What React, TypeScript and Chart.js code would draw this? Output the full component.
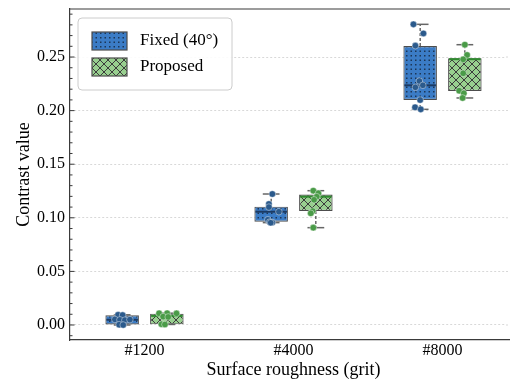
import React, { useEffect, useRef } from 'react';
import { Chart, registerables } from 'chart.js';

Chart.register(...registerables);

// ---------------- data ----------------
const categories = ['#1200', '#4000', '#8000'];
const seriesNames = ['Fixed (40°)', 'Proposed'];
const yTickValues = [0, 0.05, 0.1, 0.15, 0.2, 0.25];

// box statistics (per category) — Fixed (40°)
const fixedQ1 = [0.0004, 0.0964, 0.2099];
const fixedMedian = [0.0049, 0.1057, 0.2236];
const fixedQ3 = [0.009, 0.1104, 0.2603];
const fixedLow = [0.0, 0.0955, 0.2012];
const fixedHigh = [0.0095, 0.1222, 0.2805];

// box statistics (per category) — Proposed
const propQ1 = [0.0006, 0.1063, 0.2183];
const propMedian = [0.0085, 0.1197, 0.248];
const propQ3 = [0.0106, 0.1217, 0.2488];
const propLow = [0.0005, 0.0908, 0.2118];
const propHigh = [0.011, 0.1253, 0.2615];

// individual observations (strip points) and their horizontal jitter
const fixedPoints = [
  [0.0095, 0.0092, 0.0052, 0.0048, 0.0045, 0.005, 0.0003, 0.0],
  [0.1222, 0.1129, 0.11, 0.1057, 0.0982, 0.096, 0.0956, 0.0954],
  [0.2805, 0.272, 0.2606, 0.2276, 0.2236, 0.2217, 0.2099, 0.2031, 0.2012],
];
const fixedJitter = [
  [-0.027, 0.003, -0.049, -0.015, 0.018, 0.052, -0.02, 0.007],
  [0.008, -0.015, -0.015, 0.052, -0.022, -0.01, 0.008, -0.003],
  [-0.045, 0.022, -0.032, -0.005, 0.018, -0.032, 0.0, -0.034, 0.004],
];
const propPoints = [
  [0.0109, 0.011, 0.0108, 0.0078, 0.0075, 0.0007, 0.0005],
  [0.1253, 0.1228, 0.1197, 0.1168, 0.1063, 0.1042, 0.0908],
  [0.2615, 0.2519, 0.2478, 0.2348, 0.2186, 0.2161, 0.2118],
];
const propJitter = [
  [-0.052, 0.002, 0.065, -0.025, 0.009, -0.036, -0.013],
  [-0.017, 0.017, 0.006, -0.012, -0.021, -0.034, -0.017],
  [0.0, 0.015, -0.011, -0.011, -0.038, -0.007, -0.015],
];

// ---------------- styles ----------------
const FONT = "'Liberation Serif', 'Times New Roman', serif";
const FIXED_FILL = '#3b7cc6';
const FIXED_DOT = '#1c3657';
const FIXED_MEDIAN = '#1b3a63';
const FIXED_POINT = '#2b5a8c';
const PROP_FILL = '#98cf8f';
const PROP_HATCH = '#3c3c3c';
const PROP_MEDIAN = '#2f8a2f';
const PROP_POINT = '#4a9b48';
const EDGE = '#4d4d4d';
const FRAME = '#3a3a3a';
const HUE_OFFSET = [-0.15, 0.15];
const VIEW_WIDTH = 510;

function dotPattern(): CanvasPattern | string {
  const c = document.createElement('canvas');
  c.width = 9;
  c.height = 9;
  const g = c.getContext('2d');
  if (!g) return FIXED_FILL;
  g.fillStyle = FIXED_FILL;
  g.fillRect(0, 0, 9, 9);
  g.fillStyle = FIXED_DOT;
  [[1, 1], [5.5, 1], [1, 5.5], [5.5, 5.5]].forEach(([x, y]) => g.fillRect(x, y, 1.5, 1.5));
  return g.createPattern(c, 'repeat') || FIXED_FILL;
}

function crossPattern(): CanvasPattern | string {
  const c = document.createElement('canvas');
  c.width = 8;
  c.height = 8;
  const g = c.getContext('2d');
  if (!g) return PROP_FILL;
  g.fillStyle = PROP_FILL;
  g.fillRect(0, 0, 8, 8);
  g.strokeStyle = PROP_HATCH;
  g.lineWidth = 1;
  g.beginPath();
  g.moveTo(-1, -1);
  g.lineTo(9, 9);
  g.moveTo(-1, 9);
  g.lineTo(9, -1);
  g.stroke();
  return g.createPattern(c, 'repeat') || PROP_FILL;
}

const boxStats = [
  { q1: fixedQ1, med: fixedMedian, q3: fixedQ3, lo: fixedLow, hi: fixedHigh, medColor: FIXED_MEDIAN },
  { q1: propQ1, med: propMedian, q3: propQ3, lo: propLow, hi: propHigh, medColor: PROP_MEDIAN },
];

function line(ctx: CanvasRenderingContext2D, x1: number, y1: number, x2: number, y2: number) {
  ctx.beginPath();
  ctx.moveTo(x1, y1);
  ctx.lineTo(x2, y2);
  ctx.stroke();
}

const boxPlugin = {
  id: 'boxExtras',
  afterDatasetDraw(chart: any, args: any) {
    const ds = chart.data.datasets[args.index];
    if (ds.statsIndex === undefined) return;
    const st = boxStats[ds.statsIndex];
    const y = chart.scales.y;
    const ctx: CanvasRenderingContext2D = chart.ctx;
    args.meta.data.forEach((bar: any, i: number) => {
      const x = bar.x;
      const w = bar.width;
      ctx.save();
      ctx.strokeStyle = '#333333';
      ctx.lineWidth = 1.1;
      ctx.setLineDash([3, 2]);
      line(ctx, x, y.getPixelForValue(st.q3[i]), x, y.getPixelForValue(st.hi[i]));
      line(ctx, x, y.getPixelForValue(st.q1[i]), x, y.getPixelForValue(st.lo[i]));
      ctx.setLineDash([]);
      ctx.strokeStyle = '#666666';
      ctx.lineWidth = 1.5;
      line(ctx, x - w / 4, y.getPixelForValue(st.hi[i]), x + w / 4, y.getPixelForValue(st.hi[i]));
      line(ctx, x - w / 4, y.getPixelForValue(st.lo[i]), x + w / 4, y.getPixelForValue(st.lo[i]));
      ctx.strokeStyle = st.medColor;
      ctx.lineWidth = 2;
      const ym = y.getPixelForValue(st.med[i]);
      line(ctx, x - w / 2 + 1, ym, x + w / 2 - 1, ym);
      ctx.restore();
    });
  },
};

const framePlugin = {
  id: 'frameLegend',
  afterDraw(chart: any) {
    const ctx: CanvasRenderingContext2D = chart.ctx;
    const { left, right, top, bottom } = chart.chartArea;
    const y = chart.scales.y;
    ctx.save();
    // keep the visible right margin clean (the right spine lies outside the view)
    ctx.fillStyle = '#ffffff';
    ctx.fillRect(VIEW_WIDTH - 4, top + 1.5, 4, bottom - top - 3);
    ctx.strokeStyle = '#cfcfcf';
    ctx.lineWidth = 0.8;
    ctx.setLineDash([2, 2]);
    yTickValues.forEach((v) => {
      const py = y.getPixelForValue(v);
      line(ctx, VIEW_WIDTH - 4, py, VIEW_WIDTH, py);
    });
    ctx.setLineDash([]);
    ctx.strokeStyle = FRAME;
    ctx.lineWidth = 1.2;
    line(ctx, left, top, right, top);
    // inward y ticks
    ctx.lineWidth = 1;
    yTickValues.forEach((v) => {
      const py = y.getPixelForValue(v);
      line(ctx, left, py, left + 4.5, py);
    });
    const minorStep = 0.01;
    for (let k = Math.ceil(y.min / minorStep); k <= Math.floor(y.max / minorStep); k++) {
      if (k % 5 === 0) continue;
      const py = y.getPixelForValue(k * minorStep);
      line(ctx, left, py, left + 2.5, py);
    }
    // legend
    const lx = left + 8;
    const ly = top + 9;
    const lw = 154;
    const lh = 72;
    const r = 4;
    ctx.beginPath();
    ctx.moveTo(lx + r, ly);
    ctx.lineTo(lx + lw - r, ly);
    ctx.arcTo(lx + lw, ly, lx + lw, ly + r, r);
    ctx.lineTo(lx + lw, ly + lh - r);
    ctx.arcTo(lx + lw, ly + lh, lx + lw - r, ly + lh, r);
    ctx.lineTo(lx + r, ly + lh);
    ctx.arcTo(lx, ly + lh, lx, ly + lh - r, r);
    ctx.lineTo(lx, ly + r);
    ctx.arcTo(lx, ly, lx + r, ly, r);
    ctx.closePath();
    ctx.fillStyle = 'rgba(255,255,255,0.9)';
    ctx.fill();
    ctx.strokeStyle = '#cccccc';
    ctx.lineWidth = 1;
    ctx.stroke();
    [0, 1].forEach((d) => {
      const ds = chart.data.datasets[d];
      const py = ly + 14 + d * 26;
      ctx.fillStyle = ds.backgroundColor;
      ctx.fillRect(lx + 14, py, 35, 18);
      ctx.strokeStyle = EDGE;
      ctx.lineWidth = 1.2;
      ctx.strokeRect(lx + 14, py, 35, 18);
      ctx.fillStyle = '#000';
      ctx.font = `17px ${FONT}`;
      ctx.textBaseline = 'middle';
      ctx.textAlign = 'left';
      ctx.fillText(ds.label, lx + 62, py + 9);
    });
    ctx.restore();
  },
};

export default function App() {
  const ref = useRef<HTMLCanvasElement | null>(null);

  useEffect(() => {
    if (!ref.current) return;
    const fills = [dotPattern(), crossPattern()];
    const barData = (q1: number[], q3: number[]) => categories.map((_, i) => ({ x: i, y: [q1[i], q3[i]] }));
    const ptData = (pts: number[][], jit: number[][], h: number) =>
      pts.flatMap((arr, i) => arr.map((v, k) => ({ x: i + HUE_OFFSET[h] + jit[i][k], y: v })));

    const chart = new Chart(ref.current, {
      type: 'bar',
      data: {
        datasets: [
          {
            type: 'bar',
            label: seriesNames[0],
            data: barData(fixedQ1, fixedQ3) as any,
            backgroundColor: fills[0] as any,
            borderColor: EDGE,
            borderWidth: 1.2,
            borderSkipped: false,
            categoryPercentage: 0.6,
            barPercentage: 0.75,
            order: 2,
            statsIndex: 0,
          } as any,
          {
            type: 'bar',
            label: seriesNames[1],
            data: barData(propQ1, propQ3) as any,
            backgroundColor: fills[1] as any,
            borderColor: EDGE,
            borderWidth: 1.2,
            borderSkipped: false,
            categoryPercentage: 0.6,
            barPercentage: 0.75,
            order: 2,
            statsIndex: 1,
          } as any,
          {
            type: 'scatter',
            label: seriesNames[0] + ' points',
            data: ptData(fixedPoints, fixedJitter, 0),
            backgroundColor: FIXED_POINT,
            borderColor: 'rgba(255,255,255,0.6)',
            borderWidth: 0.7,
            pointRadius: 3.3,
            order: 1,
          } as any,
          {
            type: 'scatter',
            label: seriesNames[1] + ' points',
            data: ptData(propPoints, propJitter, 1),
            backgroundColor: PROP_POINT,
            borderColor: 'rgba(255,255,255,0.6)',
            borderWidth: 0.7,
            pointRadius: 3.3,
            order: 1,
          } as any,
        ],
      },
      options: {
        responsive: false,
        animation: false,
        events: [],
        devicePixelRatio: 1,
        layout: { padding: { top: 9, right: 13, left: 0, bottom: 0 } },
        plugins: { legend: { display: false }, tooltip: { enabled: false } },
        scales: {
          x: {
            type: 'linear',
            min: -0.5,
            max: 2.5,
            offset: false,
            afterBuildTicks: (s: any) => {
              s.ticks = categories.map((_, i) => ({ value: i }));
            },
            afterFit: (s: any) => {
              s.height = 43;
              s.paddingLeft = 0;
              s.paddingRight = 0;
            },
            ticks: {
              autoSkip: false,
              maxRotation: 0,
              padding: 1,
              color: '#000',
              font: { family: FONT, size: 16 },
              callback: (v: any) => categories[v as number] ?? '',
            },
            grid: { display: false, drawTicks: false },
            border: { display: true, color: FRAME, width: 1.2 },
            title: {
              display: true,
              text: 'Surface roughness (grit)',
              color: '#000',
              font: { family: FONT, size: 18 },
              padding: { top: 0, bottom: 2 },
            },
          },
          y: {
            type: 'linear',
            min: -0.014,
            max: 0.2948,
            afterBuildTicks: (s: any) => {
              s.ticks = yTickValues.map((v) => ({ value: v }));
            },
            afterFit: (s: any) => {
              s.width = 70;
              s.paddingTop = 0;
              s.paddingBottom = 0;
            },
            ticks: {
              padding: 5,
              color: '#000',
              font: { family: FONT, size: 16 },
              callback: (v: any) => Number(v).toFixed(2),
            },
            grid: {
              display: true,
              drawTicks: false,
              color: '#cfcfcf',
              lineWidth: 0.8,
            },
            border: { display: true, color: FRAME, width: 1.2, dash: [2, 2] },
            title: {
              display: true,
              text: 'Contrast value',
              color: '#000',
              font: { family: FONT, size: 18 },
              padding: { top: 13, bottom: 0 },
            },
          },
        },
      } as any,
      plugins: [boxPlugin, framePlugin],
    });
    return () => chart.destroy();
  }, []);

  return (
    <div style={{ position: 'fixed', left: 0, top: 0, width: VIEW_WIDTH, height: 383, overflow: 'hidden', background: '#fff' }}>
      <canvas ref={ref} width={530} height={383} style={{ width: 530, height: 383, display: 'block' }} />
    </div>
  );
}
